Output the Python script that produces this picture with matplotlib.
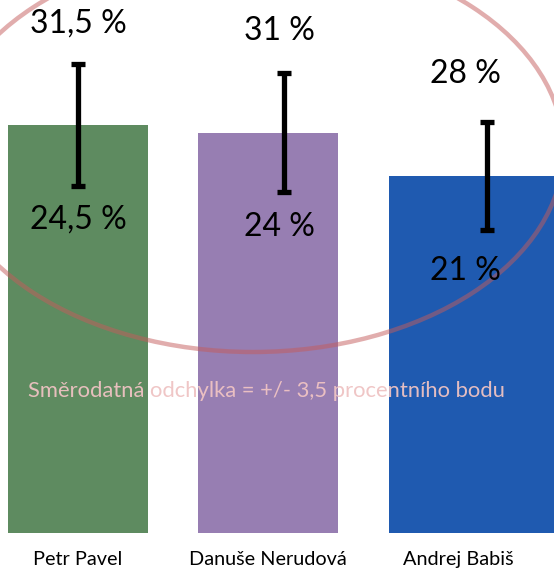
import matplotlib
matplotlib.use('Agg')
import matplotlib.pyplot as plt
from matplotlib.patches import Ellipse

candidates = ['Petr Pavel', 'Danuše Nerudová', 'Andrej Babiš']
support = [28.0, 27.5, 24.5]
drawn_err = [4.2, 4.1, 3.7]
upper_labels = ['31,5 %', '31 %', '28 %']
lower_labels = ['24,5 %', '24 %', '21 %']
upper_values = [31.5, 31.0, 28.0]
lower_values = [24.5, 24.0, 21.0]
note = 'Směrodatná odchylka = +/- 3,5 procentního bodu'

colors = ['#5e8b60', '#977eb2', '#1f5ab0']
bar_widths = [0.737, 0.737, 0.95]
bar_shift = [0, 0, 0.11]
err_shift = [0, 0.084, 0.153]
label_shift = [0, 0.058, 0.037]

plt.rcParams['font.family'] = ['Lato', 'DejaVu Sans']

fig = plt.figure(figsize=(5.54, 5.70), dpi=100)
ax = fig.add_axes([0, 37 / 570, 1, 533 / 570])

x = list(range(len(candidates)))
ax.bar([i + s for i, s in zip(x, bar_shift)], support, width=bar_widths,
       color=colors, zorder=1)

# error bars sit a bit to the right of the bar centres in the original
ex = [i + s for i, s in zip(x, err_shift)]
ax.errorbar(ex, support, yerr=drawn_err, fmt='none', ecolor='black',
            elinewidth=3.8, capsize=5, capthick=3.8, zorder=3)

for i in x:
    tx = i + label_shift[i]
    ax.text(tx, upper_values[i] + 3.5, upper_labels[i], ha='center',
            va='center', fontsize=23, color='black', zorder=4)
    ax.text(tx, lower_values[i] - 3.0, lower_labels[i], ha='center',
            va='center', fontsize=23, color='black', zorder=4)

ax.set_xlim(-0.41, 2.505)
ax.set_ylim(0, 36.6)
ax.set_xticks(x)
ax.set_xticklabels(candidates, fontsize=14.3)
ax.tick_params(axis='x', length=0, pad=13)
ax.set_yticks([])
for side in ax.spines.values():
    side.set_visible(False)

ell = Ellipse((253 / 554, 1 - 150 / 570), 621 / 554, 404 / 570,
              transform=fig.transFigure, fill=False,
              edgecolor=(0.77, 0.36, 0.36, 0.5), linewidth=3.2, zorder=2)
ax.add_patch(ell)
ell.set_clip_on(False)

fig.text(266 / 554, 1 - 391 / 570, note, ha='center', va='center',
         fontsize=15.8, color='#efc3c3', alpha=0.95)

fig.savefig('out.png', dpi=100)
